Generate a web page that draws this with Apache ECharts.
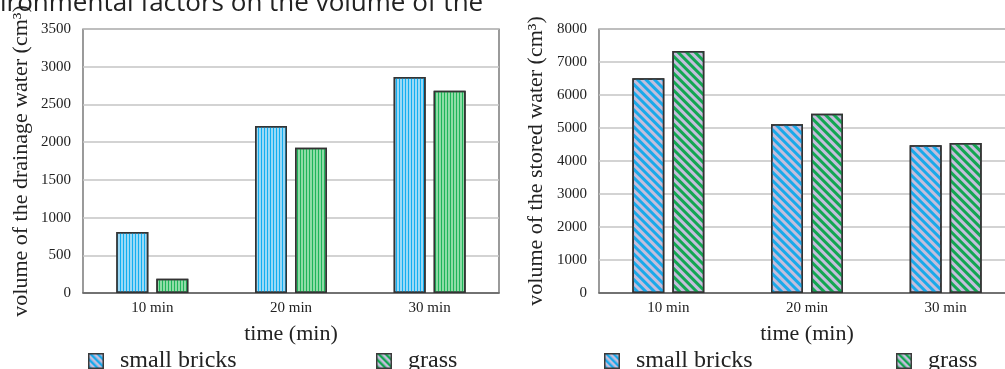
<!DOCTYPE html>
<html>
<head>
<meta charset="utf-8">
<script src="https://cdn.jsdelivr.net/npm/echarts@6/dist/echarts.min.js"></script>
<style>html,body{margin:0;padding:0;background:#fff;overflow:hidden;width:1005px;height:369px;}#c{width:1030px;height:369px;}</style>
</head>
<body>
<div id="c"></div>
<script>
const categories = ['10 min', '20 min', '30 min'];
const drainageBricks = [810, 2215, 2865];
const drainageGrass = [190, 1925, 2680];
const storedBricks = [6505, 5110, 4475];
const storedGrass = [7330, 5430, 4545];
const drainageTicks = [0, 500, 1000, 1500, 2000, 2500, 3000, 3500];
const storedTicks = [0, 1000, 2000, 3000, 4000, 5000, 6000, 7000, 8000];
const seriesNames = ['small bricks', 'grass'];

const serif = 'Liberation Serif, Times New Roman, serif';

function legendIcon(stripe) {
  const svg = "<svg xmlns='http://www.w3.org/2000/svg' width='16' height='16'><defs><pattern id='p' width='5' height='5' patternUnits='userSpaceOnUse' patternTransform='rotate(-45)'><rect width='5' height='5' fill='#c4bedc'/><rect width='2.4' height='5' fill='" + stripe + "'/></pattern></defs><rect x='0.75' y='0.75' width='14.5' height='14.5' fill='url(#p)' stroke='#3a3a3a' stroke-width='1.5'/></svg>";
  return 'image://data:image/svg+xml;charset=utf-8,' + encodeURIComponent(svg);
}

const vDecal = (c) => ({ symbol: 'rect', symbolSize: 1, color: c, dashArrayX: [1, 2], dashArrayY: [4, 0], rotation: 0 });
const dDecal = (c) => ({ symbol: 'rect', symbolSize: 1, color: c, dashArrayX: [4, 0], dashArrayY: [2.4, 2.6], rotation: Math.PI / 4 });

function yAxisDef(gridIndex, ticks, name, gap) {
  return {
    type: 'value', gridIndex: gridIndex, min: ticks[0], max: ticks[ticks.length - 1], interval: ticks[1] - ticks[0],
    name: name, nameLocation: 'middle', nameGap: gap, nameRotate: 90,
    nameTextStyle: { fontFamily: serif, fontSize: 22, color: '#222' },
    axisLine: { show: false }, axisTick: { show: false },
    axisLabel: { fontFamily: serif, fontSize: 15, color: '#222', margin: 12, formatter: (v) => String(v) },
    splitLine: { lineStyle: { color: '#c4c4c4', width: 1.5 } }
  };
}
function xAxisDef(gridIndex) {
  return {
    type: 'category', gridIndex: gridIndex, data: categories,
    name: 'time (min)', nameLocation: 'middle', nameGap: 30,
    nameTextStyle: { fontFamily: serif, fontSize: 22, color: '#222' },
    axisLine: { show: true, lineStyle: { color: '#595959', width: 1.5 } }, axisTick: { show: false },
    axisLabel: { fontFamily: serif, fontSize: 15, color: '#222', margin: 8 }
  };
}
function barSeries(name, data, idx, base, decal) {
  return {
    type: 'bar', name: name, data: data, xAxisIndex: idx, yAxisIndex: idx,
    barWidth: 32, barGap: '25%',
    itemStyle: { color: base, borderColor: '#333', borderWidth: 1.5, decal: decal }
  };
}
function legendDef(name, left, stripe) {
  return {
    data: [{ name: name, icon: legendIcon(stripe) }], left: left, top: 344, itemWidth: 16, itemHeight: 16,
    selectedMode: false, textStyle: { fontFamily: serif, fontSize: 24, color: '#222', padding: [0, 0, 0, 11] }
  };
}

const chart = echarts.init(document.getElementById('c'));
chart.setOption({
  animation: false,
  backgroundColor: '#fff',
  grid: [
    { left: 83, top: 29, width: 416, height: 264, show: true, borderColor: '#595959', borderWidth: 1.2 },
    { left: 599, top: 29, width: 416, height: 264, show: true, borderColor: '#595959', borderWidth: 1.2 }
  ],
  xAxis: [xAxisDef(0), xAxisDef(1)],
  yAxis: [
    yAxisDef(0, drainageTicks, 'volume of the drainage water (cm³)', 51),
    yAxisDef(1, storedTicks, 'volume of the stored water (cm³)', 52)
  ],
  legend: [
    legendDef(seriesNames[0], 83, '#1aa9ea'),
    legendDef(seriesNames[1], 371, '#13a651'),
    legendDef(seriesNames[0], 599, '#1aa9ea'),
    legendDef(seriesNames[1], 891, '#13a651')
  ],
  graphic: [{
    type: 'text', left: 0, top: -9,
    style: { text: 'ironmental factors on the volume of the', font: '26px "Open Sans", sans-serif', fill: '#222' }
  }],
  series: [
    barSeries(seriesNames[0], drainageBricks, 0, '#9ad9f6', vDecal('#12aef0')),
    barSeries(seriesNames[1], drainageGrass, 0, '#8edca6', vDecal('#1fb45a')),
    barSeries(seriesNames[0], storedBricks, 1, '#c4bedc', dDecal('#1aa9ea')),
    barSeries(seriesNames[1], storedGrass, 1, '#c4bedc', dDecal('#13a651'))
  ]
});
</script>
</body>
</html>
